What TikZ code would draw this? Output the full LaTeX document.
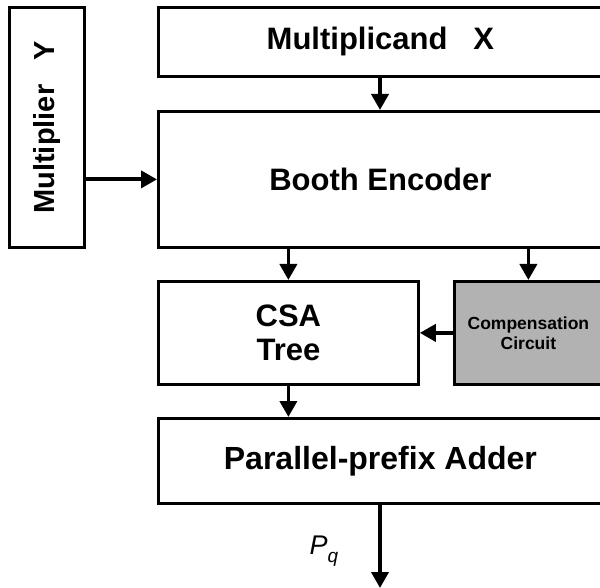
\documentclass[tikz,border=0pt]{standalone}
\usepackage{fontspec}
\setmainfont{Liberation Sans}
\usetikzlibrary{arrows.meta}
\tikzset{
  blk/.style={draw=black, line width=2.8pt, fill=white, inner sep=0pt, anchor=north west,
              align=center, font=\bfseries\fontsize{31}{34}\selectfont},
  shade/.style={fill=black!30},
  flow/.style={line width=3.8pt, -{Triangle[length=16pt,width=17pt]}}
}
\begin{document}
\begin{tikzpicture}[x=1pt,y=-1pt]
  \useasboundingbox (0,0) rectangle (600,588);

  % functional blocks
  \node[blk, minimum width=75pt, minimum height=240pt,
        font=\bfseries\fontsize{29}{34}\selectfont] (mult) at (8,6)
    {\rotatebox{90}{Multiplier\ \ \ Y}};
  \node[blk, minimum width=444pt, minimum height=69pt] (mcand) at (157,6)
    {Multiplicand\ \ \ X};
  \node[blk, minimum width=444pt, minimum height=136pt] (booth) at (157,110)
    {Booth Encoder};
  \node[blk, minimum width=260pt, minimum height=103pt] (csa) at (157,280)
    {CSA\\Tree};
  \node[blk, shade, minimum width=148pt, minimum height=103pt,
        font=\bfseries\fontsize{17.5}{20}\selectfont] (comp) at (453,280)
    {Compensation\\Circuit};
  \node[blk, minimum width=444pt, minimum height=85pt,
        font=\bfseries\fontsize{32}{34}\selectfont] (adder) at (157,417)
    {Parallel-prefix Adder};

  % product output
  \coordinate (out) at (380,588);
  \node[font=\fontsize{27}{30}\selectfont, inner sep=0pt] (pq) at (324,551)
    {\itshape P\raisebox{-0.3em}{\fontsize{19}{20}\selectfont q}};

  % data flow
  \draw[flow] (mult.east |- booth.west) -- (booth.west);
  \draw[flow] (mcand.south -| out) -- (booth.north -| out);
  \draw[flow] (booth.south -| csa.north) -- (csa.north);
  \draw[flow] (booth.south -| comp.north) -- (comp.north);
  \draw[flow] (comp.west) -- (csa.east);
  \draw[flow] (csa.south) -- (adder.north -| csa.south);
  \draw[flow] (adder.south -| out) -- (out);
\end{tikzpicture}
\end{document}
